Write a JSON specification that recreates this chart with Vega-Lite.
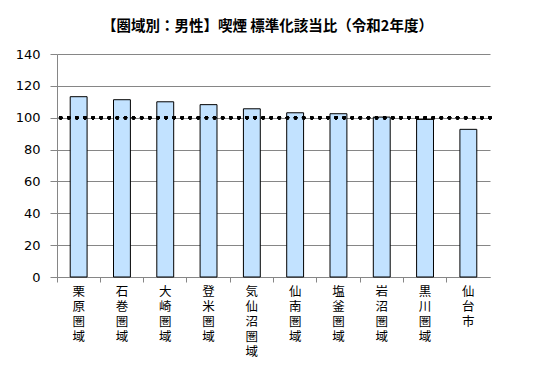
{
  "$schema": "https://vega.github.io/schema/vega-lite/v6.json",
  "width": 433,
  "height": 223,
  "autosize": "none",
  "padding": {"left": 57, "top": 54, "right": 43, "bottom": 92},
  "background": "white",
  "title": {
    "text": "【圏域別：男性】喫煙 標準化該当比（令和2年度）",
    "font": "Noto Sans CJK JP",
    "fontSize": 14.5,
    "fontWeight": "bold",
    "color": "#000000",
    "anchor": "middle",
    "frame": "group",
    "dx": -6,
    "offset": 14
  },
  "data": {
    "values": [
      {"area": "栗原圏域", "value": 113.2},
      {"area": "石巻圏域", "value": 111.3},
      {"area": "大崎圏域", "value": 110.0},
      {"area": "登米圏域", "value": 108.2},
      {"area": "気仙沼圏域", "value": 105.6},
      {"area": "仙南圏域", "value": 103.1},
      {"area": "塩釜圏域", "value": 102.5},
      {"area": "岩沼圏域", "value": 100.4},
      {"area": "黒川圏域", "value": 98.9},
      {"area": "仙台市", "value": 92.7}
    ]
  },
  "layer": [
    {
      "mark": {"type": "bar", "width": {"band": 0.39}, "fill": "#C2E2FF", "stroke": "#000000", "strokeWidth": 1},
      "encoding": {
        "x": {
          "field": "area",
          "type": "nominal",
          "sort": null,
          "scale": {"paddingInner": 0, "paddingOuter": 0},
          "axis": {
            "title": null,
            "bandPosition": 0,
            "labelAngle": 0,
            "labelExpr": "split(datum.label, '')",
            "labelFont": "Noto Sans CJK JP",
            "labelFontSize": 12.5,
            "labelLineHeight": 15,
            "labelColor": "#000000",
            "labelBaseline": "top",
            "labelPadding": 3,
            "labelAlign": "center",
            "labelOverlap": false,
            "domainColor": "#868686",
            "tickColor": "#868686",
            "tickSize": 5,
            "grid": false
          }
        },
        "y": {
          "field": "value",
          "type": "quantitative",
          "scale": {"domain": [0, 140]},
          "axis": {
            "title": null,
            "values": [0, 20, 40, 60, 80, 100, 120, 140],
            "labelFont": "DejaVu Sans",
            "labelFontSize": 13,
            "labelColor": "#000000",
            "labelPadding": 10,
            "labelOverlap": false,
            "labelFlush": false,
            "labelBound": false,
            "domainColor": "#868686",
            "tickColor": "#868686",
            "tickSize": 7,
            "gridColor": "#868686",
            "gridWidth": 1
          }
        }
      }
    },
    {
      "mark": {"type": "rule", "color": "#000000", "strokeWidth": 3.5, "strokeDash": [0.1, 8], "strokeCap": "round"},
      "encoding": {
        "y": {
          "datum": 100,
          "type": "quantitative",
          "axis": {
            "title": null,
            "values": [0, 20, 40, 60, 80, 100, 120, 140],
            "labelFont": "DejaVu Sans",
            "labelFontSize": 13,
            "labelColor": "#000000",
            "labelPadding": 10,
            "labelOverlap": false,
            "labelFlush": false,
            "labelBound": false,
            "domainColor": "#868686",
            "tickColor": "#868686",
            "tickSize": 7,
            "gridColor": "#868686",
            "gridWidth": 1
          }
        }
      }
    }
  ],
  "config": {
    "view": {"stroke": null}
  }
}
